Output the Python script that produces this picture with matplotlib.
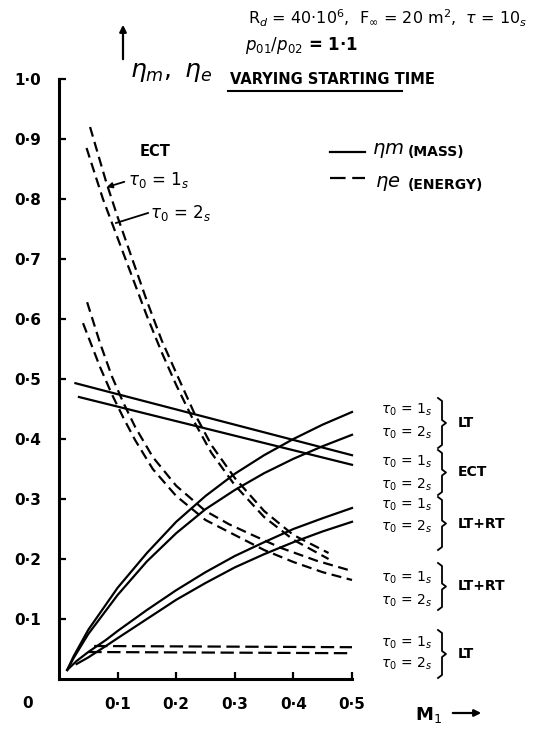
"""
Efficiency vs inlet Mach number for varying starting time.
"""
import matplotlib
matplotlib.use('Agg')
import matplotlib.pyplot as plt
from matplotlib.lines import Line2D

###############################################################################
# Data
# solid lines: eta_m (mass)
lt_mass_x = [0.014, 0.025, 0.05, 0.1, 0.15, 0.2, 0.25, 0.3, 0.35, 0.4, 0.45, 0.5]
lt_mass_1 = [0.015, 0.038, 0.082, 0.152, 0.21, 0.262, 0.305, 0.342, 0.373, 0.400, 0.424, 0.445]
lt_mass_2 = [0.015, 0.035, 0.075, 0.140, 0.196, 0.243, 0.283, 0.315, 0.343, 0.367, 0.388, 0.407]

ltrt_mass_x1 = [0.014, 0.03, 0.05, 0.08, 0.1, 0.15, 0.2, 0.25, 0.3, 0.35, 0.4, 0.45, 0.5]
ltrt_mass_1 = [0.015, 0.03, 0.045, 0.065, 0.08, 0.115, 0.148, 0.178, 0.205, 0.228, 0.25, 0.268, 0.285]
ltrt_mass_x2 = [0.03, 0.05, 0.08, 0.1, 0.15, 0.2, 0.25, 0.3, 0.35, 0.4, 0.45, 0.5]
ltrt_mass_2 = [0.025, 0.036, 0.055, 0.068, 0.1, 0.132, 0.16, 0.186, 0.208, 0.228, 0.246, 0.262]

ect_mass_x1 = [0.028, 0.5]
ect_mass_1 = [0.493, 0.373]
ect_mass_x2 = [0.034, 0.5]
ect_mass_2 = [0.47, 0.357]

# dashed lines: eta_e (energy)
ect_energy_x1 = [0.053, 0.08, 0.1, 0.125, 0.15, 0.175, 0.2, 0.23, 0.26, 0.3, 0.35, 0.4, 0.46]
ect_energy_1 = [0.92, 0.83, 0.77, 0.70, 0.63, 0.565, 0.51, 0.445, 0.39, 0.335, 0.28, 0.24, 0.21]
ect_energy_x2 = [0.047, 0.075, 0.1, 0.125, 0.15, 0.175, 0.2, 0.23, 0.26, 0.3, 0.35, 0.4, 0.46]
ect_energy_2 = [0.885, 0.80, 0.735, 0.67, 0.605, 0.545, 0.49, 0.43, 0.377, 0.323, 0.27, 0.232, 0.2]

ltrt_energy_x1 = [0.048, 0.07, 0.09, 0.11, 0.13, 0.16, 0.2, 0.25, 0.29, 0.33, 0.38, 0.44, 0.5]
ltrt_energy_1 = [0.628, 0.56, 0.505, 0.46, 0.42, 0.37, 0.322, 0.28, 0.258, 0.24, 0.218, 0.197, 0.18]
ltrt_energy_x2 = [0.041, 0.07, 0.09, 0.11, 0.13, 0.16, 0.2, 0.25, 0.3, 0.35, 0.4, 0.45, 0.5]
ltrt_energy_2 = [0.593, 0.52, 0.475, 0.435, 0.398, 0.35, 0.305, 0.265, 0.24, 0.215, 0.195, 0.178, 0.165]

lt_energy_x1 = [0.06, 0.5]
lt_energy_1 = [0.055, 0.053]
lt_energy_x2 = [0.05, 0.5]
lt_energy_2 = [0.045, 0.043]

x_ticks = [0.1, 0.2, 0.3, 0.4, 0.5]
x_labels = ['0·1', '0·2', '0·3', '0·4', '0·5']
y_ticks = [0.1, 0.2, 0.3, 0.4, 0.5, 0.6, 0.7, 0.8, 0.9, 1.0]
y_labels = ['0·1', '0·2', '0·3', '0·4', '0·5', '0·6', '0·7', '0·8', '0·9', '1·0']

###############################################################################
W, H = 535, 729
fig = plt.figure(figsize=(W / 100, H / 100), dpi=100)


def fp(x, y):
    # pixel position -> figure fraction
    return x / W, 1 - y / H


ax = fig.add_axes([59 / W, 1 - 679 / H, 293 / W, 600 / H])
ax.set_xlim(0, 0.5)
ax.set_ylim(0, 1.0)
for s in ['top', 'right']:
    ax.spines[s].set_visible(False)
for s in ['left', 'bottom']:
    ax.spines[s].set_linewidth(2.2)
ax.set_xticks(x_ticks)
ax.set_xticklabels(x_labels)
ax.set_yticks(y_ticks)
ax.set_yticklabels(y_labels)
ax.tick_params(direction='in', length=5, width=1.6, labelsize=11, pad=13)
for lab in ax.get_xticklabels() + ax.get_yticklabels():
    lab.set_fontweight('bold')

solid = dict(color='black', lw=1.6, clip_on=False)
dashed = dict(color='black', lw=1.6, ls=(0, (4.5, 2.5)), clip_on=False)
flat = dict(color='black', lw=1.6, ls=(0, (6, 2.5)), clip_on=False)

ax.plot(lt_mass_x, lt_mass_1, **solid)
ax.plot(lt_mass_x, lt_mass_2, **solid)
ax.plot(ltrt_mass_x1, ltrt_mass_1, **solid)
ax.plot(ltrt_mass_x2, ltrt_mass_2, **solid)
ax.plot(ect_mass_x1, ect_mass_1, **solid)
ax.plot(ect_mass_x2, ect_mass_2, **solid)

ax.plot(ect_energy_x1, ect_energy_1, **dashed)
ax.plot(ect_energy_x2, ect_energy_2, **dashed)
ax.plot(ltrt_energy_x1, ltrt_energy_1, **dashed)
ax.plot(ltrt_energy_x2, ltrt_energy_2, **dashed)
ax.plot(lt_energy_x1, lt_energy_1, **flat)
ax.plot(lt_energy_x2, lt_energy_2, **flat)

###############################################################################
# Texts and annotations
bold = dict(fontweight='bold', color='black')
fig.text(*fp(28, 703), '0', fontsize=11, ha='center', va='center', **bold)
fig.text(*fp(415, 715), r'M$_1$', fontsize=13, ha='left', va='center', **bold)
fig.add_artist(plt.Annotation('', xy=fp(484, 713), xytext=fp(450, 713),
                              xycoords='figure fraction',
                              arrowprops=dict(arrowstyle='-|>', color='black', lw=1.6)))

fig.add_artist(plt.Annotation('', xy=fp(123, 22), xytext=fp(123, 62),
                              xycoords='figure fraction',
                              arrowprops=dict(arrowstyle='-|>', color='black', lw=1.6)))
fig.text(*fp(130, 72), r'$\eta_m,\ \eta_e$', fontsize=18, ha='left', va='center')

fig.text(*fp(248, 18), r'R$_d$ = 40·10$^6$,  F$_\infty$ = 20 m$^2$,  $\tau$ = 10$_s$',
         fontsize=11.5, ha='left', va='center', color='black')
fig.text(*fp(245, 46), r'$p_{01}/p_{02}$ = 1·1', fontsize=12, ha='left', va='center', **bold)
fig.text(*fp(230, 79), 'VARYING STARTING TIME', fontsize=10.5, ha='left', va='center', **bold)
fig.add_artist(Line2D([228 / W, 402 / W], [1 - 91 / H, 1 - 91 / H], color='black', lw=1.5))

# legend
fig.add_artist(Line2D([330 / W, 365 / W], [1 - 152 / H] * 2, color='black', lw=1.6))
fig.add_artist(Line2D([330 / W, 365 / W], [1 - 178 / H] * 2, color='black', lw=1.6,
                      ls=(0, (7, 3))))
fig.text(*fp(372, 151), r'$\eta m$', fontsize=14, ha='left', va='center')
fig.text(*fp(408, 152), '(MASS)', fontsize=10, ha='left', va='center', **bold)
fig.text(*fp(375, 183), r'$\eta e$', fontsize=14, ha='left', va='center')
fig.text(*fp(408, 185), '(ENERGY)', fontsize=10, ha='left', va='center', **bold)

# ECT labels at top left
fig.text(*fp(140, 152), 'ECT', fontsize=10.5, ha='left', va='center', **bold)
fig.text(*fp(128, 180), r'$\tau_0$ = 1$_s$', fontsize=12, ha='left', va='center')
fig.add_artist(plt.Annotation('', xy=fp(104, 188), xytext=fp(127, 181),
                              xycoords='figure fraction',
                              arrowprops=dict(arrowstyle='-|>', color='black', lw=1.3,
                                              mutation_scale=8)))
fig.text(*fp(150, 213), r'$\tau_0$ = 2$_s$', fontsize=12, ha='left', va='center')
fig.add_artist(Line2D([116 / W, 148 / W], [1 - 223 / H, 1 - 213 / H], color='black', lw=1.3))

# right side labels with braces
groups = [
    (410, 433, 398, 448, 'LT'),
    (462, 485, 450, 495, 'ECT'),
    (505, 527, 497, 550, 'LT+RT'),
    (578, 601, 563, 610, 'LT+RT'),
    (643, 664, 630, 678, 'LT'),
]


def brace(x, y0, y1):
    ym = (y0 + y1) / 2
    xs = [x - 4, x, x, x + 4, x, x, x - 4]
    ys = [y0, y0 + 3, ym - 3, ym, ym + 3, y1 - 3, y1]
    fig.add_artist(Line2D([v / W for v in xs], [1 - v / H for v in ys],
                          color='black', lw=1.3))


for y1s, y2s, b0, b1, name in groups:
    fig.text(*fp(381, y1s), r'$\tau_0$ = 1$_s$', fontsize=10, ha='left', va='center')
    fig.text(*fp(381, y2s), r'$\tau_0$ = 2$_s$', fontsize=10, ha='left', va='center')
    brace(442, b0, b1)
    fig.text(*fp(458, (b0 + b1) / 2), name, fontsize=10, ha='left', va='center', **bold)

fig.savefig('out.png', dpi=100)
